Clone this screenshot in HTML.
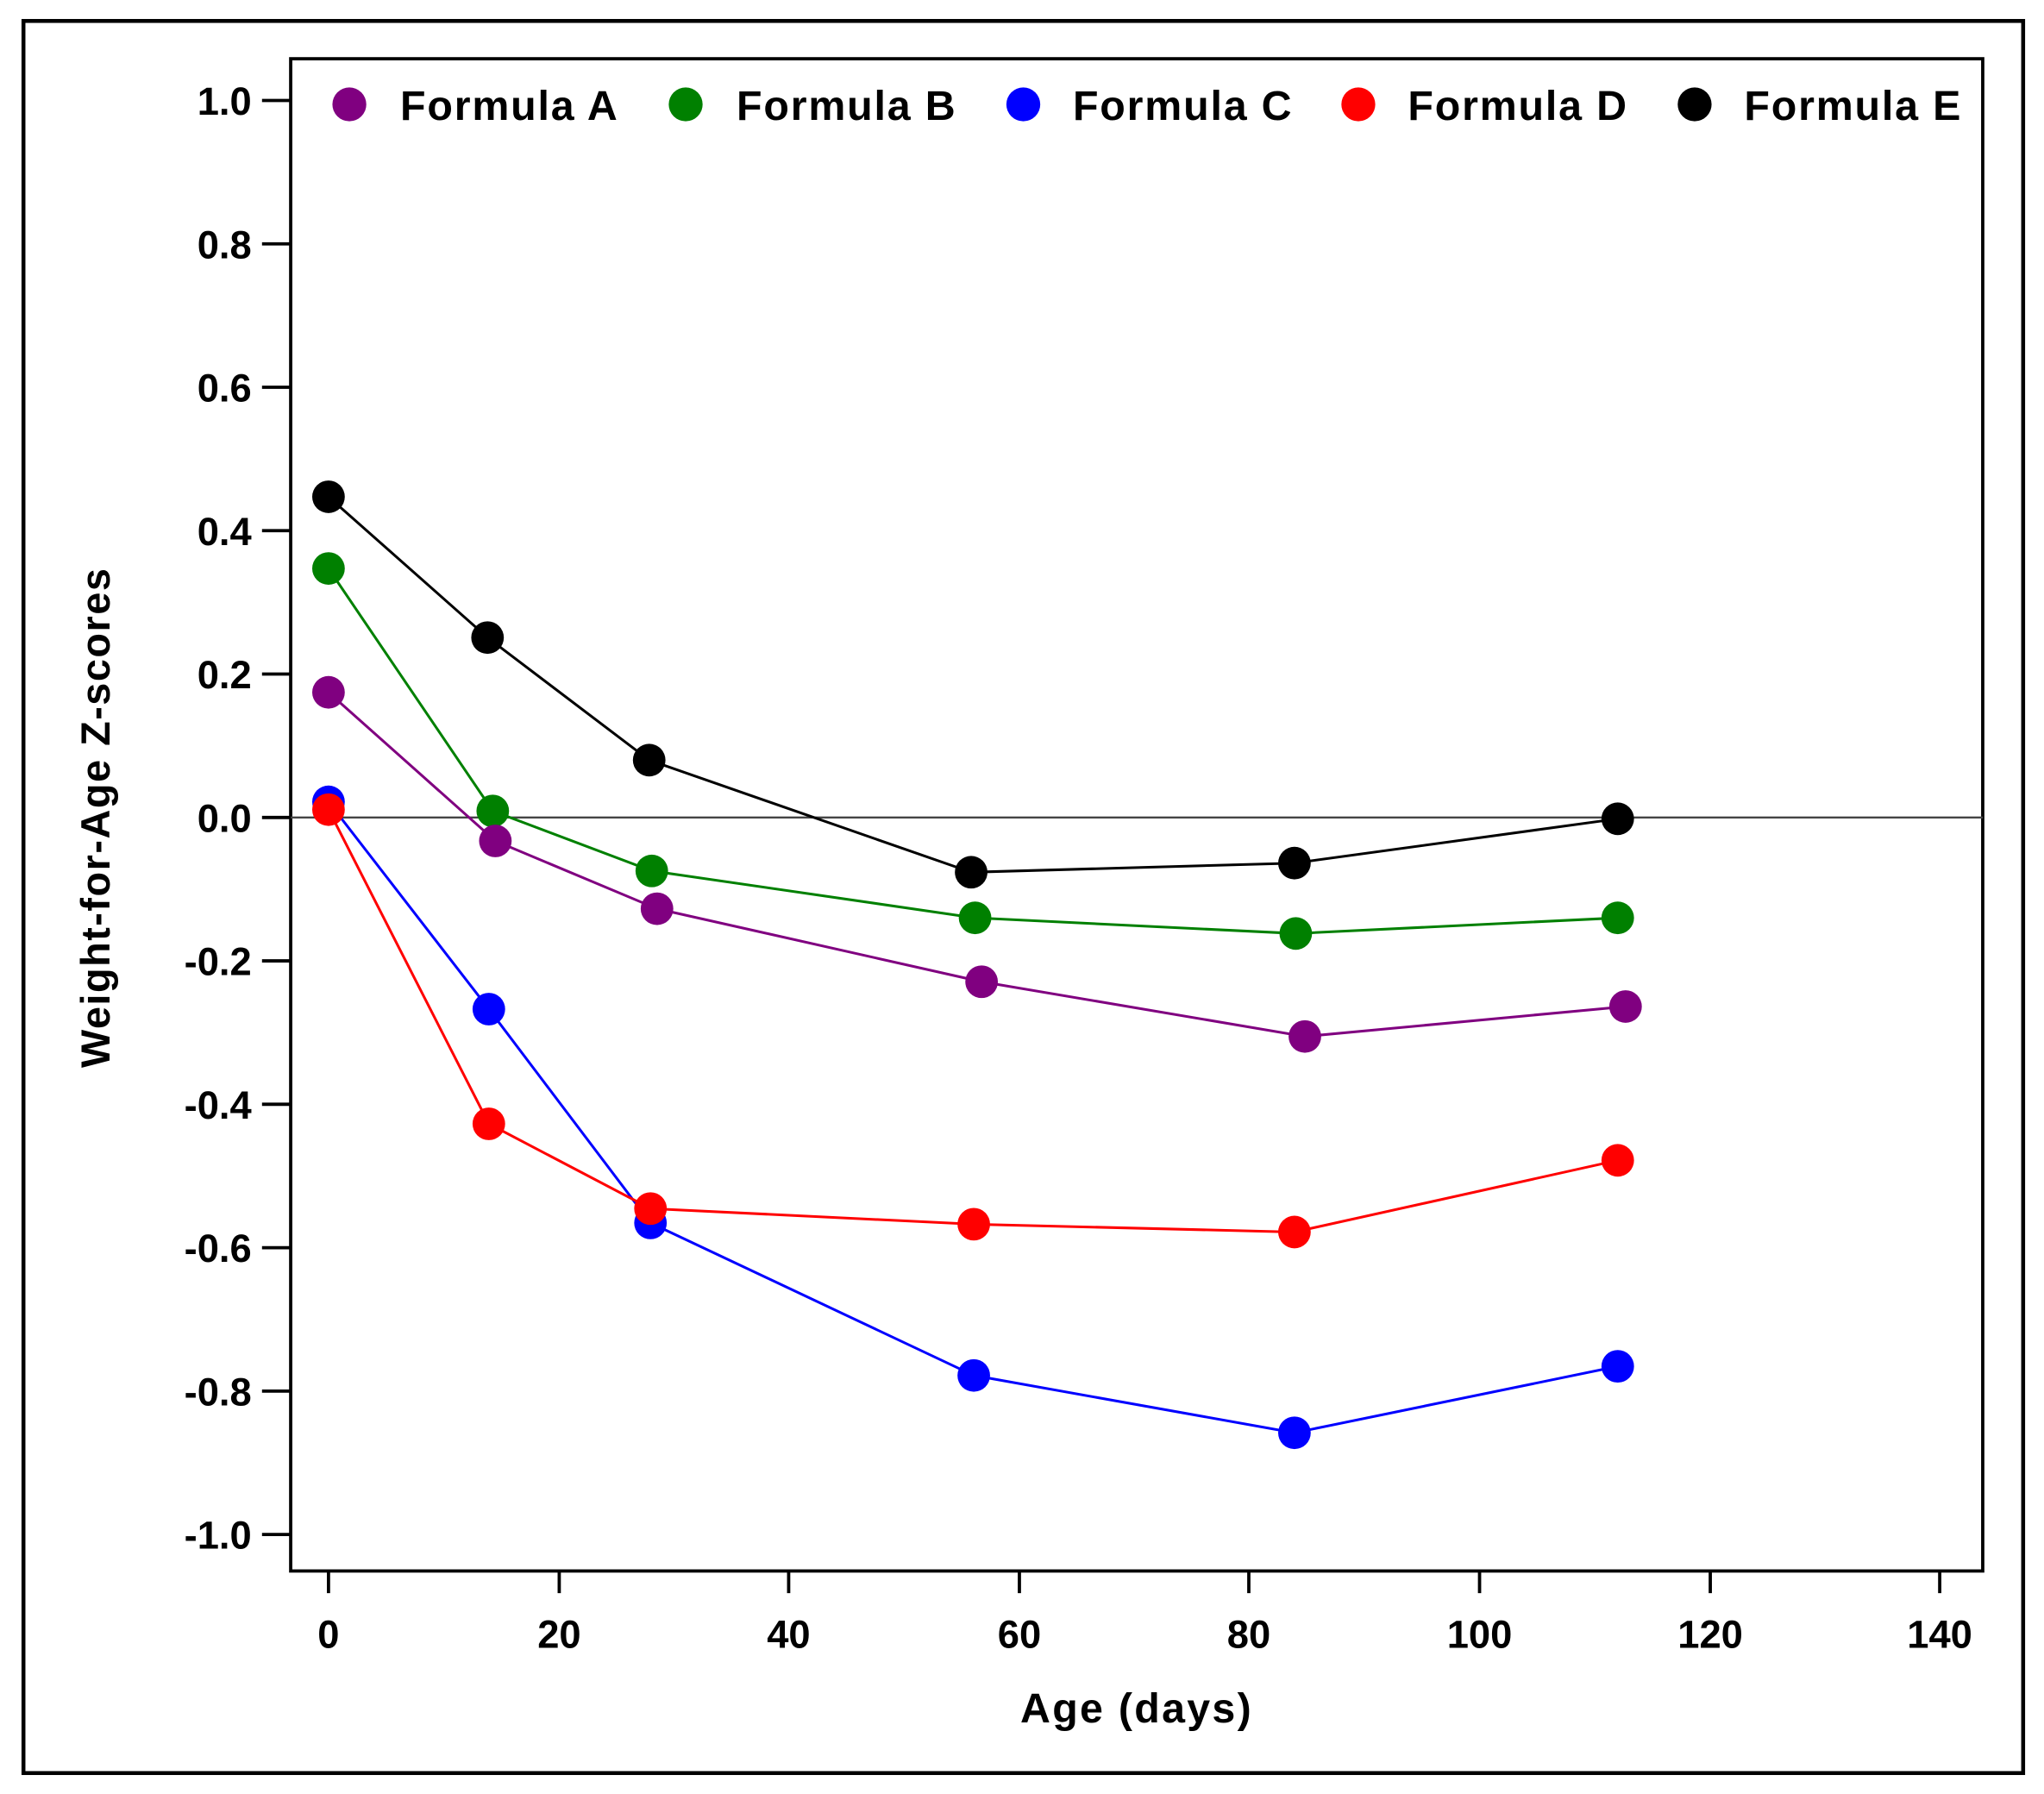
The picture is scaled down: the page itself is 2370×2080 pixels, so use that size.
<!DOCTYPE html>
<html><head><meta charset="utf-8"><style>html,body{margin:0;padding:0;background:#fff}svg{display:block}</style></head>
<body>
<svg width="2370" height="2080" viewBox="0 0 1568 1376" xmlns="http://www.w3.org/2000/svg" font-family="Liberation Sans, Arial, sans-serif" font-weight="bold">
<rect x="0" y="0" width="1568" height="1376" fill="#fff"/>
<rect x="18" y="16" width="1534" height="1344" fill="none" stroke="#000" stroke-width="3"/>
<rect x="223" y="45" width="1298" height="1160" fill="none" stroke="#000" stroke-width="2.5"/>
<line x1="223" y1="627" x2="1521" y2="627" stroke="#444" stroke-width="1.6"/>
<g stroke="#000" stroke-width="2.5">
<line x1="201" y1="77" x2="223" y2="77"/><line x1="201" y1="187" x2="223" y2="187"/><line x1="201" y1="297" x2="223" y2="297"/><line x1="201" y1="407" x2="223" y2="407"/><line x1="201" y1="517" x2="223" y2="517"/><line x1="201" y1="627" x2="223" y2="627"/><line x1="201" y1="737" x2="223" y2="737"/><line x1="201" y1="847" x2="223" y2="847"/><line x1="201" y1="957" x2="223" y2="957"/><line x1="201" y1="1067" x2="223" y2="1067"/><line x1="201" y1="1177" x2="223" y2="1177"/>
<line x1="252" y1="1205" x2="252" y2="1222"/><line x1="429" y1="1205" x2="429" y2="1222"/><line x1="605" y1="1205" x2="605" y2="1222"/><line x1="782" y1="1205" x2="782" y2="1222"/><line x1="958" y1="1205" x2="958" y2="1222"/><line x1="1135" y1="1205" x2="1135" y2="1222"/><line x1="1312" y1="1205" x2="1312" y2="1222"/><line x1="1488" y1="1205" x2="1488" y2="1222"/>
</g>
<g font-size="30" text-anchor="end" fill="#000">
<text x="193" y="88">1.0</text><text x="193" y="198">0.8</text><text x="193" y="308">0.6</text><text x="193" y="418">0.4</text><text x="193" y="528">0.2</text><text x="193" y="638">0.0</text><text x="193" y="748">-0.2</text><text x="193" y="858">-0.4</text><text x="193" y="968">-0.6</text><text x="193" y="1078">-0.8</text><text x="193" y="1188">-1.0</text>
</g>
<g font-size="30" text-anchor="middle" fill="#000">
<text x="252" y="1264">0</text><text x="429" y="1264">20</text><text x="605" y="1264">40</text><text x="782" y="1264">60</text><text x="958" y="1264">80</text><text x="1135" y="1264">100</text><text x="1312" y="1264">120</text><text x="1488" y="1264">140</text>
</g>
<g font-size="32" text-anchor="middle" fill="#000" letter-spacing="1.5">
<text x="872" y="1321">Age (days)</text>
<text transform="translate(84,627) rotate(-90)" font-size="31" letter-spacing="1">Weight-for-Age Z-scores</text>
</g>
<g fill="none" stroke-width="2">
<polyline stroke="#008000" points="252,436 378,622 500,668 748,704 994,716 1241,704"/>
<polyline stroke="#800080" points="252,531 380,645 504,697 753,753 1001,795 1247,772"/>
<polyline stroke="#0000ff" points="252,615 375,774 499,938 747,1055 993,1099 1241,1048"/>
<polyline stroke="#ff0000" points="252,621 375,862 499,927 747,939 993,945 1241,890"/>
<polyline stroke="#000" points="252,381 374,489 498,583 745,669 993,662 1241,628"/>
</g>
<g fill="#008000"><circle cx="252" cy="436" r="12.5"/><circle cx="378" cy="622" r="12.5"/><circle cx="500" cy="668" r="12.5"/><circle cx="748" cy="704" r="12.5"/><circle cx="994" cy="716" r="12.5"/><circle cx="1241" cy="704" r="12.5"/></g>
<g fill="#800080"><circle cx="252" cy="531" r="12.5"/><circle cx="380" cy="645" r="12.5"/><circle cx="504" cy="697" r="12.5"/><circle cx="753" cy="753" r="12.5"/><circle cx="1001" cy="795" r="12.5"/><circle cx="1247" cy="772" r="12.5"/></g>
<g fill="#0000ff"><circle cx="252" cy="615" r="12.5"/><circle cx="375" cy="774" r="12.5"/><circle cx="499" cy="938" r="12.5"/><circle cx="747" cy="1055" r="12.5"/><circle cx="993" cy="1099" r="12.5"/><circle cx="1241" cy="1048" r="12.5"/></g>
<g fill="#ff0000"><circle cx="252" cy="621" r="12.5"/><circle cx="375" cy="862" r="12.5"/><circle cx="499" cy="927" r="12.5"/><circle cx="747" cy="939" r="12.5"/><circle cx="993" cy="945" r="12.5"/><circle cx="1241" cy="890" r="12.5"/></g>
<g fill="#000"><circle cx="252" cy="381" r="12.5"/><circle cx="374" cy="489" r="12.5"/><circle cx="498" cy="583" r="12.5"/><circle cx="745" cy="669" r="12.5"/><circle cx="993" cy="662" r="12.5"/><circle cx="1241" cy="628" r="12.5"/></g>
<circle cx="268" cy="80" r="13" fill="#800080"/><circle cx="526" cy="80" r="13" fill="#008000"/><circle cx="785" cy="80" r="13" fill="#0000ff"/><circle cx="1042" cy="80" r="13" fill="#ff0000"/><circle cx="1300" cy="80" r="13" fill="#000"/>
<g font-size="32" fill="#000" letter-spacing="1.2">
<text x="307" y="92">Formula A</text><text x="565" y="92">Formula B</text><text x="823" y="92">Formula C</text><text x="1080" y="92">Formula D</text><text x="1338" y="92">Formula E</text>
</g>
</svg>
</body></html>
